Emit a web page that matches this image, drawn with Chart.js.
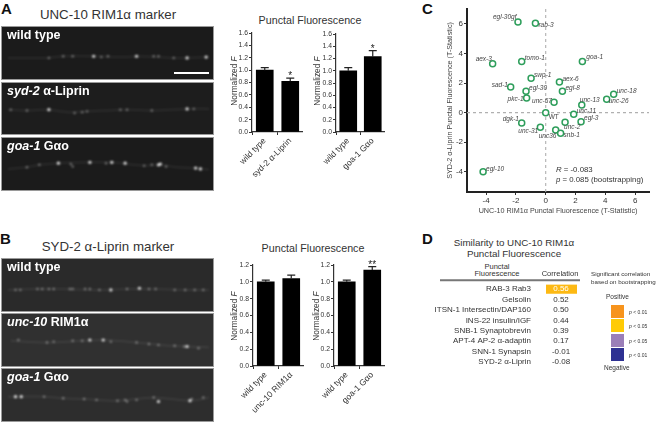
<!DOCTYPE html>
<html>
<head>
<meta charset="utf-8">
<script src="https://cdn.jsdelivr.net/npm/chart.js@4/dist/chart.umd.min.js"></script>
<style>
html, body { margin: 0; padding: 0; background: #fff; width: 661px; height: 422px; overflow: hidden; }
body { position: relative; font-family: "Liberation Sans", Arial, sans-serif; color: #333; }
canvas { position: absolute; display: block; }
.t { position: absolute; white-space: nowrap; line-height: 1; transform: translate(-50%, -50%); }
.l { position: absolute; white-space: nowrap; line-height: 1; transform: translateY(-50%); }
.letter { position: absolute; font-weight: bold; font-size: 15px; color: #111; line-height: 1; }
.scope { position: absolute; left: 1px; width: 213px; background: #1d1d1d; border: 1px solid #9a9a9a; box-sizing: border-box; overflow: hidden; }
.scope canvas { left: 0; top: 0; filter: blur(0.9px); }
.scope span { position: absolute; left: 5px; top: 2px; color: #fff; font-weight: bold; font-size: 12.5px; line-height: 1.1; white-space: nowrap; z-index: 2; }
.swatch { position: absolute; left: 611px; width: 13px; height: 13px; }
</style>
</head>
<body>
<script>
// bar panels
var barLabelsA1 = ["wild type", "syd-2 α-Liprin"];
var barValuesA1 = [1.0, 0.82];
var barErrorsA1 = [0.04, 0.05];
var barStarsA1 = ["", "*"];

var barLabelsA2 = ["wild type", "goa-1 Gαo"];
var barValuesA2 = [1.0, 1.23];
var barErrorsA2 = [0.05, 0.10];
var barStarsA2 = ["", "*"];

var barLabelsB1 = ["wild type", "unc-10 RIM1α"];
var barValuesB1 = [1.0, 1.04];
var barErrorsB1 = [0.02, 0.04];
var barStarsB1 = ["", ""];

var barLabelsB2 = ["wild type", "goa-1 Gαo"];
var barValuesB2 = [1.0, 1.14];
var barErrorsB2 = [0.02, 0.04];
var barStarsB2 = ["", "**"];

// scatter panel C
var geneNames = ["egl-30gf", "rab-3", "aex-3", "tomo-1", "goa-1", "swp-1", "aex-6", "sad-1", "egl-30", "egl-8", "pkc-1", "unc-57", "unc-13", "unc-26", "unc-18", "WT", "unc-11", "egl-3", "unc-2", "dgk-1", "unc-31", "unc36", "snb-1", "egl-10"];
var rimT = [-1.86, -0.69, -3.56, -1.61, 2.46, -0.98, 0.92, -2.35, -1.32, 1.12, -1.28, 0.56, 2.42, 4.09, 4.56, 0, 1.88, 2.37, 1.30, -1.61, -0.36, 0.67, 1.0, -4.2];
var liprinT = [6.13, 6.04, 3.31, 3.45, 3.45, 2.32, 2.07, 1.73, 1.44, 1.44, 0.99, 0.70, 0.52, 0.90, 1.24, 0, -0.11, -0.61, -0.65, -0.70, -0.99, -1.17, -1.40, -3.99];
var scatterXTicks = [-4, -2, 0, 2, 4, 6];
var scatterYTicks = [-4, -2, 0, 2, 4, 6];

// table panel D
var tableRows = ["RAB-3 Rab3", "Gelsolin", "ITSN-1 Intersectin/DAP160", "INS-22 insulin/IGF", "SNB-1 Synaptobrevin", "APT-4 AP-2 α-adaptin", "SNN-1 Synapsin", "SYD-2 α-Liprin"];
var tableValues = ["0.56", "0.52", "0.50", "0.44", "0.39", "0.17", "-0.01", "-0.08"];
var tableSignificant = [1, null, null, null, null, null, null, null];

// micrograph puncta
var a1Bright = [[137,31],[210,32],[190,33],[92,31]];
var a1Mid = [[60,31],[70,31],[107,31],[160,31],[45,33],[155,31],[100,32],[176,33]];
var a1Faint = [[2,33],[15,33],[30,33],[45,33],[60,31],[92,31],[125,32],[137,31],[160,32],[175,33],[190,33],[213,32]];
var a2Bright = [[45,28],[190,27]];
var a2Mid = [[5,28],[22,29],[80,31],[85,30],[127,28],[197,27],[153,29],[120,28],[72,32]];
var a2Faint = [[2,28],[22,29],[45,28],[65,31],[85,30],[127,28],[153,29],[190,27],[213,27]];
var a3Bright = [[55,26],[111,25],[125,26],[199,32],[204,33],[160,28],[162,27],[88,25]];
var a3Mid = [[35,28],[70,30],[22,31],[153,28],[145,29],[105,26],[168,30],[68,27]];
var a3Faint = [[2,33],[22,31],[35,28],[55,26],[88,25],[111,25],[145,29],[160,28],[180,31],[199,32],[213,34]];
var b1Bright = [[110,33],[140,31]];
var b1Mid = [[10,33],[15,33],[33,32],[38,32],[45,32],[50,32],[67,32],[70,32],[83,32],[88,32],[98,33],[127,32],[150,32],[157,32],[177,33],[188,33],[198,33],[207,33]];
var b1Faint = [[2,33],[30,32],[60,32],[98,33],[127,32],[157,32],[188,33],[213,33]];
var b2Bright = [[88,27],[102,27],[190,35]];
var b2Mid = [[13,27],[43,30],[50,29],[80,28],[110,29],[137,30],[150,32],[160,33],[177,34],[187,35],[202,37],[70,28]];
var b2Faint = [[5,28],[43,30],[80,28],[102,27],[137,30],[160,33],[190,35],[213,36]];
var b3Bright = [[10,29],[16,29],[193,34],[160,35]];
var b3Mid = [[40,29],[60,31],[82,32],[95,33],[117,34],[125,33],[137,33],[155,30],[195,32],[207,30],[127,35]];
var b3Faint = [[2,29],[16,29],[40,29],[60,31],[82,32],[117,34],[155,30],[193,34],[213,30]];

var sans = "'Liberation Sans', Arial, sans-serif";

function makeCanvas(left, top, w, h, parent) {
    var c = document.createElement("canvas");
    c.width = w;
    c.height = h;
    c.style.width = w + "px";
    c.style.height = h + "px";
    if (!parent) {
        c.style.left = left + "px";
        c.style.top = top + "px";
    }
    (parent || document.body).appendChild(c);
    return c;
}

function text(cls, x, y, size, html, extra) {
    var d = document.createElement("div");
    d.className = cls;
    d.style.left = x + "px";
    d.style.top = y + "px";
    d.style.fontSize = size + "px";
    if (extra) d.style.cssText += extra;
    d.innerHTML = html;
    document.body.appendChild(d);
    return d;
}

function toPts(list) {
    return list.map(function(p) { return { x: p[0], y: p[1] }; });
}

// one microscope strip
function scope(top, h, label, bright, mid, faint, bg) {
    var box = document.createElement("div");
    box.className = "scope";
    box.style.top = top + "px";
    box.style.height = h + "px";
    box.style.background = bg;
    box.innerHTML = "<span>" + label + "</span>";
    document.body.appendChild(box);
    var c = makeCanvas(0, 0, 211, h - 2, box);
    new Chart(c, {
        type: "scatter",
        data: {
            datasets: [
                { data: toPts(faint), showLine: true, borderColor: "rgba(255,255,255,0.07)", borderWidth: 2, pointRadius: 0, tension: 0.3 },
                { data: toPts(mid), pointRadius: 1.2, pointBackgroundColor: "rgba(255,255,255,0.38)", pointBorderWidth: 0 },
                { data: toPts(bright), pointRadius: 1.6, pointBackgroundColor: "rgba(255,255,255,0.85)", pointBorderWidth: 0 }
            ]
        },
        options: {
            responsive: false,
            animation: false,
            layout: { padding: 0 },
            plugins: { legend: { display: false }, tooltip: { enabled: false } },
            scales: {
                x: { display: false, min: 0, max: 213 },
                y: { display: false, min: 0, max: h, reverse: true }
            }
        }
    });
}

// error bars and stars on top of the bars
var errorBarPlugin = {
    id: "errorBars",
    afterDatasetsDraw: function(chart, args, opts) {
        var ctx = chart.ctx;
        var sx = chart.scales.x, sy = chart.scales.y;
        ctx.save();
        chart.data.datasets[0].data.forEach(function(v, i) {
            var x = sx.getPixelForValue(i);
            var y0 = sy.getPixelForValue(v);
            var y1 = sy.getPixelForValue(v + opts.errors[i]);
            ctx.strokeStyle = "#222";
            ctx.lineWidth = 1.2;
            ctx.beginPath();
            ctx.moveTo(x, y0);
            ctx.lineTo(x, y1);
            ctx.moveTo(x - 4, y1);
            ctx.lineTo(x + 4, y1);
            ctx.stroke();
            if (opts.stars[i]) {
                ctx.fillStyle = "#222";
                ctx.font = "10px " + sans;
                ctx.textAlign = "center";
                ctx.textBaseline = "alphabetic";
                ctx.fillText(opts.stars[i], x, y1 + 1);
            }
        });
        ctx.restore();
    }
};

function barPanel(left, top, w, h, axisW, plotTop, plotBottom, labels, values, errors, stars, yMax) {
    var c = makeCanvas(left, top, w, h);
    new Chart(c, {
        type: "bar",
        data: {
            labels: labels,
            datasets: [{ data: values, backgroundColor: "#000", barThickness: 17 }]
        },
        plugins: [errorBarPlugin],
        options: {
            responsive: false,
            animation: false,
            layout: { padding: { top: plotTop - top, left: 0, right: 0, bottom: 0 } },
            plugins: {
                legend: { display: false },
                tooltip: { enabled: false },
                errorBars: { errors: errors, stars: stars }
            },
            scales: {
                x: {
                    afterFit: function(s) { s.height = top + h - plotBottom; },
                    grid: { display: true, drawOnChartArea: false, tickLength: 3, tickColor: "#333", lineWidth: 1 },
                    border: { color: "#333", width: 1.2 },
                    ticks: {
                        color: "#333",
                        font: { size: 8.5, family: sans },
                        minRotation: 45,
                        maxRotation: 45,
                        autoSkip: false,
                        padding: 1
                    }
                },
                y: {
                    min: 0,
                    max: yMax,
                    afterFit: function(s) { s.width = axisW; },
                    grid: { display: true, drawOnChartArea: false, tickLength: 3, tickColor: "#333", lineWidth: 1 },
                    border: { color: "#333", width: 1.2 },
                    ticks: {
                        stepSize: 0.2,
                        color: "#333",
                        font: { size: 6.8, family: sans },
                        padding: 1,
                        callback: function(v) { return v.toFixed(1); }
                    }
                }
            }
        }
    });
}

// dashed zero lines and gene names for the scatter
var scatterExtras = {
    id: "scatterExtras",
    beforeDatasetsDraw: function(chart) {
        var ctx = chart.ctx, a = chart.chartArea;
        var x0 = chart.scales.x.getPixelForValue(0);
        var y0 = chart.scales.y.getPixelForValue(0);
        ctx.save();
        ctx.strokeStyle = "#b0b0b0";
        ctx.lineWidth = 1.1;
        ctx.setLineDash([3, 3]);
        ctx.beginPath();
        ctx.moveTo(x0, a.top);
        ctx.lineTo(x0, a.bottom);
        ctx.moveTo(a.left, y0);
        ctx.lineTo(a.right, y0);
        ctx.stroke();
        ctx.restore();
    },
    afterDatasetsDraw: function(chart) {
        var ctx = chart.ctx;
        ctx.save();
        ctx.fillStyle = "#444";
        ctx.textAlign = "left";
        ctx.textBaseline = "middle";
        geneNames.forEach(function(name, i) {
            var n = labelNudge[i];
            ctx.font = (name == "WT" ? "" : "italic ") + "6.5px " + sans;
            ctx.fillText(name, chart.scales.x.getPixelForValue(rimT[i]) + n[0], chart.scales.y.getPixelForValue(liprinT[i]) + n[1]);
        });
        ctx.restore();
    }
};
// text offset from each ring, same order as geneNames
var labelNudge = [[-25,-5],[3,2],[-17,-4],[3,-3],[4,-4],[3,-3],[3,-3],[-19,-2],[3,-3],[3,-3],[-19,1],[-22,-1],[-2,-5],[2,2],[3,-3],[3,5],[3,-3],[3,-3],[-1,5],[-19,-4],[-22,4],[-17,6],[3,2],[3,-3]];

function scatterPanel() {
    var c = makeCanvas(443, 0, 218, 215);
    var pts = rimT.map(function(v, i) { return { x: v, y: liprinT[i] }; });
    new Chart(c, {
        type: "scatter",
        data: {
            datasets: [{
                data: pts,
                pointRadius: 3,
                pointBorderWidth: 1.5,
                pointBorderColor: "#2e9e5b",
                pointBackgroundColor: "#fff"
            }]
        },
        plugins: [scatterExtras],
        options: {
            responsive: false,
            animation: false,
            layout: { padding: { top: 9, right: 12, left: 0, bottom: 0 } },
            plugins: { legend: { display: false }, tooltip: { enabled: false } },
            scales: {
                x: {
                    min: -5.28,
                    max: 6.93,
                    afterBuildTicks: function(s) { s.ticks = scatterXTicks.map(function(v) { return { value: v }; }); },
                    afterFit: function(s) { s.height = 23; },
                    grid: { display: true, drawOnChartArea: false, tickLength: 3, tickColor: "#333" },
                    border: { color: "#222", width: 2 },
                    ticks: { color: "#333", font: { size: 8, family: sans }, padding: 1, maxRotation: 0 },
                    title: { display: true, text: "UNC-10 RIM1α Punctal Fluorescence (T-Statistic)", color: "#444", font: { size: 7.2, family: sans }, padding: 0 }
                },
                y: {
                    min: -5.36,
                    max: 7.0,
                    afterBuildTicks: function(s) { s.ticks = scatterYTicks.map(function(v) { return { value: v }; }); },
                    afterFit: function(s) { s.width = 24; },
                    grid: { display: true, drawOnChartArea: false, tickLength: 3, tickColor: "#333" },
                    border: { color: "#222", width: 2 },
                    ticks: { color: "#333", font: { size: 8, family: sans }, padding: 1 },
                    title: { display: true, text: "SYD-2 α-Liprin Punctal Fluorescence (T-Statistic)", color: "#444", font: { size: 7.2, family: sans }, padding: { top: 3, bottom: 0 } }
                }
            }
        }
    });
}

// correlation column for the table
var tableValuePlugin = {
    id: "tableValues",
    afterDatasetsDraw: function(chart) {
        var ctx = chart.ctx, a = chart.chartArea;
        ctx.save();
        ctx.font = "8px " + sans;
        ctx.textAlign = "center";
        ctx.textBaseline = "middle";
        tableValues.forEach(function(v, i) {
            ctx.fillStyle = tableSignificant[i] ? "#fff" : "#333";
            ctx.fillText(v, (a.left + a.right) / 2 - 0.5, chart.scales.y.getPixelForValue(i));
        });
        ctx.restore();
    }
};

function tablePanel() {
    var c = makeCanvas(420, 284, 157, 83);
    new Chart(c, {
        type: "bar",
        data: {
            labels: tableRows,
            datasets: [{ data: tableSignificant, backgroundColor: "#fdb913", barPercentage: 0.88, categoryPercentage: 1 }]
        },
        plugins: [tableValuePlugin],
        options: {
            indexAxis: "y",
            responsive: false,
            animation: false,
            layout: { padding: 0 },
            plugins: { legend: { display: false }, tooltip: { enabled: false } },
            scales: {
                x: { display: false, min: 0, max: 1 },
                y: {
                    // labels must not pad the plot, rows fill the whole canvas height
                    afterFit: function(s) { s.width = 126; s.paddingTop = 0; s.paddingBottom = 0; },
                    grid: { display: false },
                    border: { display: false },
                    ticks: { color: "#333", font: { size: 8, family: sans }, padding: 7, autoSkip: false }
                }
            }
        }
    });
}

// panel letters and headings
[["A", 1, 1], ["B", 0, 231], ["C", 422, 1], ["D", 422, 231]].forEach(function(p) {
    var d = document.createElement("div");
    d.className = "letter";
    d.style.left = p[1] + "px";
    d.style.top = p[2] + "px";
    d.textContent = p[0];
    document.body.appendChild(d);
});
text("t", 108, 15, 13.3, "UNC-10 RIM1α marker");
text("t", 108, 247, 13.3, "SYD-2 α-Liprin marker");
text("t", 310, 20, 10.7, "Punctal Fluorescence");
text("t", 313, 248, 10.7, "Punctal Fluorescence");

scope(26, 54, "wild type", a1Bright, a1Mid, a1Faint, "#1b1b1b");
scope(82, 53, "<i>syd-2</i> α-Liprin", a2Bright, a2Mid, a2Faint, "#1d1d1d");
scope(137, 54, "<i>goa-1</i> Gαo", a3Bright, a3Mid, a3Faint, "#1b1b1b");
scope(258, 54, "wild type", b1Bright, b1Mid, b1Faint, "#2a2a2a");
scope(313, 54, "<i>unc-10</i> RIM1α", b2Bright, b2Mid, b2Faint, "#303030");
scope(368, 54, "<i>goa-1</i> Gαo", b3Bright, b3Mid, b3Faint, "#2d2d2d");
text("l", 174, 73, 1, "", "width:35px;height:2px;background:#fff;z-index:3;");

barPanel(225, 25, 78, 160, 27, 33, 132, barLabelsA1, barValuesA1, barErrorsA1, barStarsA1, 1.6);
barPanel(309, 25, 76, 160, 27, 34, 132, barLabelsA2, barValuesA2, barErrorsA2, barStarsA2, 1.6);
barPanel(225, 258, 79, 160, 28, 265, 366, barLabelsB1, barValuesB1, barErrorsB1, barStarsB1, 1.2);
barPanel(306, 258, 79, 160, 28, 265, 366, barLabelsB2, barValuesB2, barErrorsB2, barStarsB2, 1.2);
[[234, 81], [317, 81], [234, 316], [316, 316]].forEach(function(p) {
    text("t", p[0], p[1], 8.3, "Normalized <i>F</i>", "transform:translate(-50%,-50%) rotate(-90deg);");
});

scatterPanel();
text("l", 556, 170, 7.8, "<i>R</i> = -0.083");
text("l", 556, 180, 7.8, "<i>p</i> = 0.085 (bootstrapping)");

text("t", 514, 243, 9.8, "Similarity to UNC-10 RIM1α");
text("t", 514, 254, 9.8, "Punctal Fluorescence");
text("t", 497, 267, 7.5, "Punctal");
text("t", 497, 274, 7.5, "Fluorescence");
text("t", 560, 274, 7.5, "Correlation");
text("l", 440, 280, 1, "", "width:140px;height:1.5px;background:#777;");
tablePanel();

text("l", 591, 274, 6.2, "Significant correlation");
text("l", 591, 282, 6.2, "based on bootstrapping");
text("l", 606, 297, 6.5, "Positive");
text("l", 604, 368, 6.5, "Negative");
[[305, "#f7941d", "<i>p</i> &lt; 0.01"], [319, "#ffcb05", "<i>p</i> &lt; 0.05"], [334, "#9b7fb8", "<i>p</i> &lt; 0.05"], [348, "#2e3192", "<i>p</i> &lt; 0.01"]].forEach(function(s) {
    var d = document.createElement("div");
    d.className = "swatch";
    d.style.top = s[0] + "px";
    d.style.background = s[1];
    document.body.appendChild(d);
    text("l", 629, s[0] + 6.5, 5, s[2]);
});
</script>
</body>
</html>
